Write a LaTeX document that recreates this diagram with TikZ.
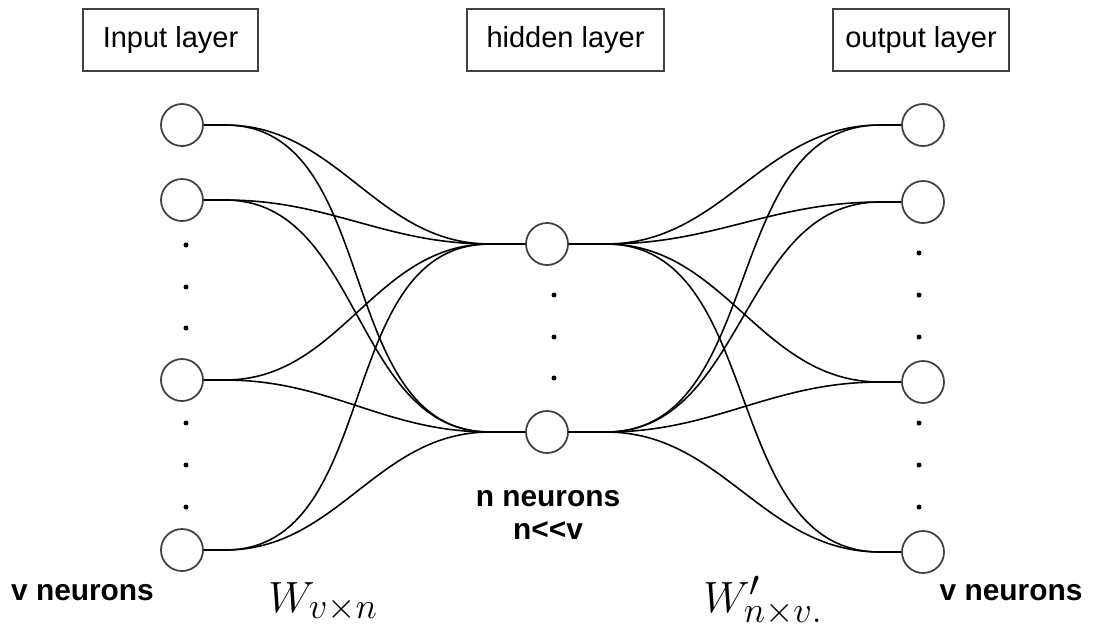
\documentclass[tikz,border=0pt]{standalone}
\usepackage{fontspec}
\setmainfont{Liberation Sans}
\usetikzlibrary{positioning}

\tikzset{
    neuron/.style={circle, draw=black!75, line width=1pt, minimum size=0.84cm, inner sep=0pt},
    layerbox/.style={draw=black!75, line width=1.1pt, minimum height=1.24cm, font=\fontsize{16.5}{20}\selectfont},
    link/.style={line width=0.9pt},
    tag/.style={font=\bfseries\fontsize{17}{18.5}\selectfont, align=center}
}

\begin{document}
\begin{tikzpicture}
    \useasboundingbox (0,0) rectangle (21.92,-12.58);

    % Tiêu đề các lớp
    \node[layerbox, minimum width=3.5cm] (inbox) at (3.41,-0.8) {Input layer};
    \node[layerbox, minimum width=3.94cm] (hidbox) at (11.31,-0.8) {hidden layer};
    \node[layerbox, minimum width=3.52cm] (outbox) at (18.42,-0.8) {output layer};

    % Các nơ-ron
    \node[neuron] (in1) at (3.64,-2.5) {};
    \node[neuron] (in2) at (3.64,-4.0) {};
    \node[neuron] (in3) at (3.64,-7.6) {};
    \node[neuron] (in4) at (3.64,-11.0) {};
    \node[neuron] (h1) at (10.94,-4.88) {};
    \node[neuron] (h2) at (10.94,-8.64) {};
    \node[neuron] (o1) at (18.46,-2.5) {};
    \node[neuron] (o2) at (18.46,-4.04) {};
    \node[neuron] (o3) at (18.46,-7.64) {};
    \node[neuron] (o4) at (18.46,-11.04) {};

    % Điểm nối
    \coordinate (i1r) at (4.5,-2.5);
    \coordinate (i2r) at (4.5,-4.0);
    \coordinate (i3r) at (4.5,-7.6);
    \coordinate (i4r) at (4.5,-11.0);
    \coordinate (h1l) at (9.8,-4.88);
    \coordinate (h2l) at (9.8,-8.64);
    \coordinate (h1r) at (12.12,-4.88);
    \coordinate (h2r) at (12.12,-8.64);
    \coordinate (o1l) at (17.6,-2.5);
    \coordinate (o2l) at (17.6,-4.04);
    \coordinate (o3l) at (17.6,-7.64);
    \coordinate (o4l) at (17.6,-11.04);

    % Trọng số W
    \draw[link] (in1) -- (i1r) to[out=0, in=180] (h1l) -- (h1);
    \draw[link] (in1) -- (i1r) to[out=0, in=180] (h2l) -- (h2);
    \draw[link] (in2) -- (i2r) to[out=0, in=180] (h1l) -- (h1);
    \draw[link] (in2) -- (i2r) to[out=0, in=180] (h2l) -- (h2);
    \draw[link] (in3) -- (i3r) to[out=0, in=180] (h1l) -- (h1);
    \draw[link] (in3) -- (i3r) to[out=0, in=180] (h2l) -- (h2);
    \draw[link] (in4) -- (i4r) to[out=0, in=180] (h1l) -- (h1);
    \draw[link] (in4) -- (i4r) to[out=0, in=180] (h2l) -- (h2);

    % Trọng số W'
    \draw[link] (h1) -- (h1r) to[out=0, in=180] (o1l) -- (o1);
    \draw[link] (h1) -- (h1r) to[out=0, in=180] (o2l) -- (o2);
    \draw[link] (h1) -- (h1r) to[out=0, in=180] (o3l) -- (o3);
    \draw[link] (h1) -- (h1r) to[out=0, in=180] (o4l) -- (o4);
    \draw[link] (h2) -- (h2r) to[out=0, in=180] (o1l) -- (o1);
    \draw[link] (h2) -- (h2r) to[out=0, in=180] (o2l) -- (o2);
    \draw[link] (h2) -- (h2r) to[out=0, in=180] (o3l) -- (o3);
    \draw[link] (h2) -- (h2r) to[out=0, in=180] (o4l) -- (o4);

    % Dấu chấm
    \fill (3.72,-4.9) circle (0.05) (3.72,-5.74) circle (0.05) (3.72,-6.56) circle (0.05)
          (3.72,-8.46) circle (0.05) (3.72,-9.3) circle (0.05) (3.72,-10.14) circle (0.05);
    \fill (11.08,-5.9) circle (0.05) (11.08,-6.74) circle (0.05) (11.08,-7.56) circle (0.05);
    \fill (18.38,-5.06) circle (0.05) (18.38,-5.9) circle (0.05) (18.38,-6.74) circle (0.05)
          (18.38,-8.46) circle (0.05) (18.38,-9.3) circle (0.05) (18.38,-10.14) circle (0.05);

    % Nhãn
    \node[tag] (vin) at (1.65,-11.86) {v neurons};
    \node[tag] (nhid) at (10.96,-10.3) {n neurons\\n<{}<v};
    \node[tag] (vout) at (20.22,-11.86) {v neurons};
    \node[anchor=base west, inner sep=0pt] (wvn) at (5.36,-12.24) {\fontsize{32}{36}\selectfont $W_{v\times n}$};
    \node[anchor=base west, inner sep=0pt] (wnv) at (14.06,-12.24) {\fontsize{32}{36}\selectfont $W'_{n\times v.}$};
\end{tikzpicture}
\end{document}
